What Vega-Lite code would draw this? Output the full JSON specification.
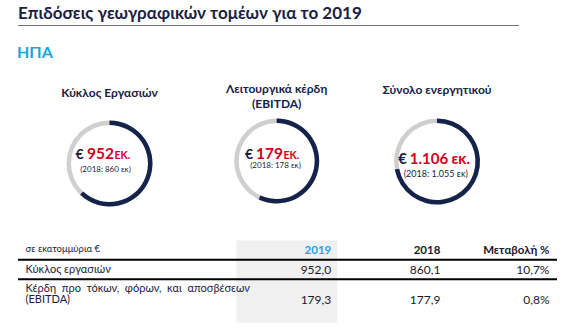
{
  "$schema": "https://vega.github.io/schema/vega-lite/v6.json",
  "background": "white",
  "padding": {"left": 17, "top": 5, "right": 0, "bottom": 0},
  "config": {
    "font": "Lato",
    "view": {"stroke": null},
    "locale": {"number": {"decimal": ",", "thousands": ".", "grouping": [3], "currency": ["€", ""]}},
    "title": {"color": "#1a2142", "fontWeight": "bold"}
  },
  "spacing": 19,
  "vconcat": [
    {
      "title": {"text": "Επιδόσεις γεωγραφικών τομέων για το 2019", "anchor": "start", "fontSize": 17, "offset": 2},
      "width": 501,
      "height": 1,
      "data": {"values": [{"section": "ΗΠΑ"}]},
      "mark": {"type": "rect", "color": "#6b7185"},
      "encoding": {}
    },
    {
      "title": {"text": "ΗΠΑ", "anchor": "start", "fontSize": 16, "color": "#18a6de", "offset": 22},
      "spacing": 25.5,
      "vconcat": [
        {
          "spacing": 0,
          "bounds": "flush",
          "hconcat": [
            {
              "width": 183,
              "height": 103,
              "title": {"text": "Κύκλος Εργασιών", "fontSize": 12, "offset": 12},
              "layer": [
                {
                  "data": {"values": [{"kpi": "Κύκλος Εργασιών"}]},
                  "mark": {"type": "arc", "outerRadius": 43, "innerRadius": 38.5, "color": "#cfcfcf"},
                  "encoding": {}
                },
                {
                  "data": {"values": [{"kpi": "Κύκλος Εργασιών", "share": 0.62}]},
                  "mark": {"type": "arc", "outerRadius": 43, "innerRadius": 38.5, "color": "#14234a"},
                  "encoding": {"theta": {"field": "share", "type": "quantitative", "scale": {"domain": [0, 1]}}}
                },
                {
                  "data": {"values": [{"value": 952, "prev": "(2018: 860 εκ)"}]},
                  "layer": [
                    {"mark": {"type": "text", "text": "€", "align": "right", "baseline": "alphabetic", "dx": -26, "dy": -4.8, "fontSize": 14, "fontWeight": "bold", "color": "#1a2142"}, "encoding": {}},
                    {"mark": {"type": "text", "align": "right", "baseline": "alphabetic", "dx": 4.5, "dy": -4.8, "fontSize": 15.5, "fontWeight": "bold", "color": "#d2001e"}, "encoding": {"text": {"field": "value", "type": "quantitative", "format": ","}}},
                    {"mark": {"type": "text", "text": "ΕΚ.", "align": "left", "baseline": "alphabetic", "dx": 5, "dy": -4.8, "fontSize": 10.5, "fontWeight": "bold", "color": "#d2001e"}, "encoding": {}},
                    {"mark": {"type": "text", "align": "center", "baseline": "middle", "dx": -4, "dy": 6.2, "fontSize": 8, "color": "#1a2142"}, "encoding": {"text": {"field": "prev", "type": "nominal"}}}
                  ]
                }
              ]
            },
            {
              "width": 151.4,
              "height": 98,
              "title": {"text": ["Λειτουργικά κέρδη", "(EBITDA)"], "fontSize": 12, "lineHeight": 15, "offset": 1},
              "layer": [
                {
                  "data": {"values": [{"kpi": "Λειτουργικά κέρδη (EBITDA)"}]},
                  "mark": {"type": "arc", "outerRadius": 42.5, "innerRadius": 38, "color": "#cfcfcf"},
                  "encoding": {}
                },
                {
                  "data": {"values": [{"kpi": "Λειτουργικά κέρδη (EBITDA)", "share": 0.57}]},
                  "mark": {"type": "arc", "outerRadius": 42.5, "innerRadius": 38, "color": "#14234a"},
                  "encoding": {"theta": {"field": "share", "type": "quantitative", "scale": {"domain": [0, 1]}}}
                },
                {
                  "data": {"values": [{"value": 179, "prev": "(2018: 178 εκ)"}]},
                  "layer": [
                    {"mark": {"type": "text", "text": "€", "align": "right", "baseline": "alphabetic", "dx": -23.5, "dy": -2.5, "fontSize": 14, "fontWeight": "bold", "color": "#1a2142"}, "encoding": {}},
                    {"mark": {"type": "text", "align": "right", "baseline": "alphabetic", "dx": 6.3, "dy": -2.5, "fontSize": 15.5, "fontWeight": "bold", "color": "#d2001e"}, "encoding": {"text": {"field": "value", "type": "quantitative", "format": ","}}},
                    {"mark": {"type": "text", "text": "ΕΚ.", "align": "left", "baseline": "alphabetic", "dx": 6.8, "dy": -2.5, "fontSize": 10.5, "fontWeight": "bold", "color": "#d2001e"}, "encoding": {}},
                    {"mark": {"type": "text", "align": "center", "baseline": "middle", "dx": -1.2, "dy": 5.3, "fontSize": 8, "color": "#1a2142"}, "encoding": {"text": {"field": "prev", "type": "nominal"}}}
                  ]
                }
              ]
            },
            {
              "width": 168,
              "height": 99,
              "title": {"text": "Σύνολο ενεργητικού", "fontSize": 12, "offset": 15},
              "layer": [
                {
                  "data": {"values": [{"kpi": "Σύνολο ενεργητικού"}]},
                  "mark": {"type": "arc", "outerRadius": 43, "innerRadius": 38.5, "color": "#cfcfcf"},
                  "encoding": {}
                },
                {
                  "data": {"values": [{"kpi": "Σύνολο ενεργητικού", "share": 0.72}]},
                  "mark": {"type": "arc", "outerRadius": 43, "innerRadius": 38.5, "color": "#14234a"},
                  "encoding": {"theta": {"field": "share", "type": "quantitative", "scale": {"domain": [0, 1]}}}
                },
                {
                  "data": {"values": [{"value": 1106, "prev": "(2018: 1.055 εκ)"}]},
                  "layer": [
                    {"mark": {"type": "text", "text": "€", "align": "right", "baseline": "alphabetic", "dx": -30, "dy": 2.5, "fontSize": 15, "fontWeight": "bold", "color": "#1a2142"}, "encoding": {}},
                    {"mark": {"type": "text", "align": "right", "baseline": "alphabetic", "dx": 11.2, "dy": 2.5, "fontSize": 15, "fontWeight": "bold", "color": "#d2001e"}, "encoding": {"text": {"field": "value", "type": "quantitative", "format": ","}}},
                    {"mark": {"type": "text", "text": "εκ.", "align": "left", "baseline": "alphabetic", "dx": 14.5, "dy": 2.5, "fontSize": 15, "fontWeight": "bold", "color": "#d2001e"}, "encoding": {}},
                    {"mark": {"type": "text", "align": "center", "baseline": "middle", "dx": -1.2, "dy": 12.2, "fontSize": 9, "color": "#1a2142"}, "encoding": {"text": {"field": "prev", "type": "nominal"}}}
                  ]
                }
              ]
            }
          ]
        },
        {
          "width": 539,
          "height": 82,
          "data": {"values": [
            {"metric": "Κύκλος εργασιών", "2019": 952.0, "2018": 860.1, "Μεταβολή %": 0.107},
            {"metric": "Κέρδη προ τόκων, φόρων, και αποσβέσεων (EBITDA)", "2019": 179.3, "2018": 177.9, "Μεταβολή %": 0.008}
          ]},
          "transform": [{"fold": ["2019", "2018", "Μεταβολή %"], "as": ["col", "v"]}],
          "layer": [
            {
              "transform": [{"filter": "datum.col === '2019' && datum.metric === 'Κύκλος εργασιών'"}],
              "mark": {"type": "rect", "color": "#f0f0f0"},
              "encoding": {
                "x": {"field": "col", "type": "nominal", "axis": null,
                      "scale": {"domain": ["2019", "2018", "Μεταβολή %"], "range": [0, 537.5], "paddingInner": 0.075, "paddingOuter": 1.448, "align": 1}}
              }
            },
            {
              "transform": [{"filter": "datum.col === '2019'"}],
              "mark": {"type": "rule", "color": "#000000", "strokeWidth": 2},
              "encoding": {
                "y": {"field": "metric", "type": "nominal", "bandPosition": 0,
                      "scale": {"domain": ["σε εκατομμύρια €", "Κύκλος εργασιών", "Κέρδη προ τόκων, φόρων, και αποσβέσεων (EBITDA)"], "range": [0, 58.05], "paddingInner": 0, "paddingOuter": 0}}
              }
            },
            {
              "transform": [{"filter": "datum.metric === 'Κύκλος εργασιών'"}],
              "mark": {"type": "text", "align": "right", "baseline": "middle", "dx": -6, "dy": 1, "fontSize": 11.5, "fontWeight": "bold"},
              "encoding": {
                "x": {"field": "col", "type": "nominal", "bandPosition": 1},
                "y": {"datum": "σε εκατομμύρια €", "type": "nominal"},
                "text": {"field": "col", "type": "nominal"},
                "color": {"condition": {"test": "datum.col === '2019'", "value": "#18a6de"}, "value": "#1a1a2e"}
              }
            },
            {
              "transform": [{"filter": "datum.metric === 'Κύκλος εργασιών'"}],
              "mark": {"type": "text", "align": "right", "baseline": "middle", "dx": -6, "fontSize": 12, "color": "#1a1a2e"},
              "encoding": {
                "x": {"field": "col", "type": "nominal", "bandPosition": 1},
                "y": {"field": "metric", "type": "nominal",
                      "axis": {"orient": "left", "zindex": 1, "domain": false, "ticks": false, "tickSize": 0, "grid": false, "title": null,
                               "labelAlign": "left", "labelPadding": -7, "labelBaseline": "top", "labelOffset": -6, "labelLimit": 0,
                               "labelColor": "#1a2142", "labelLineHeight": 11.6,
                               "labelFontSize": {"condition": {"test": "datum.value === 'σε εκατομμύρια €'", "value": 9.5}, "value": 11},
                               "labelExpr": "datum.value === 'Κέρδη προ τόκων, φόρων, και αποσβέσεων (EBITDA)' ? ['Κέρδη \u00a0προ \u00a0τόκων, \u00a0φόρων, \u00a0και \u00a0αποσβέσεων', '(EBITDA)'] : datum.label"}},
                "text": {"condition": {"test": "datum.col === 'Μεταβολή %'", "field": "v", "type": "quantitative", "format": ".1%"}, "field": "v", "type": "quantitative", "format": ".1f"}
              }
            },
            {
              "transform": [{"filter": "datum.metric !== 'Κύκλος εργασιών'"}],
              "mark": {"type": "text", "align": "right", "baseline": "middle", "dx": -6, "dy": 11.6, "fontSize": 12, "color": "#1a1a2e"},
              "encoding": {
                "x": {"field": "col", "type": "nominal", "bandPosition": 1},
                "y": {"field": "metric", "type": "nominal"},
                "text": {"condition": {"test": "datum.col === 'Μεταβολή %'", "field": "v", "type": "quantitative", "format": ".1%"}, "field": "v", "type": "quantitative", "format": ".1f"}
              }
            }
          ]
        }
      ]
    }
  ]
}
